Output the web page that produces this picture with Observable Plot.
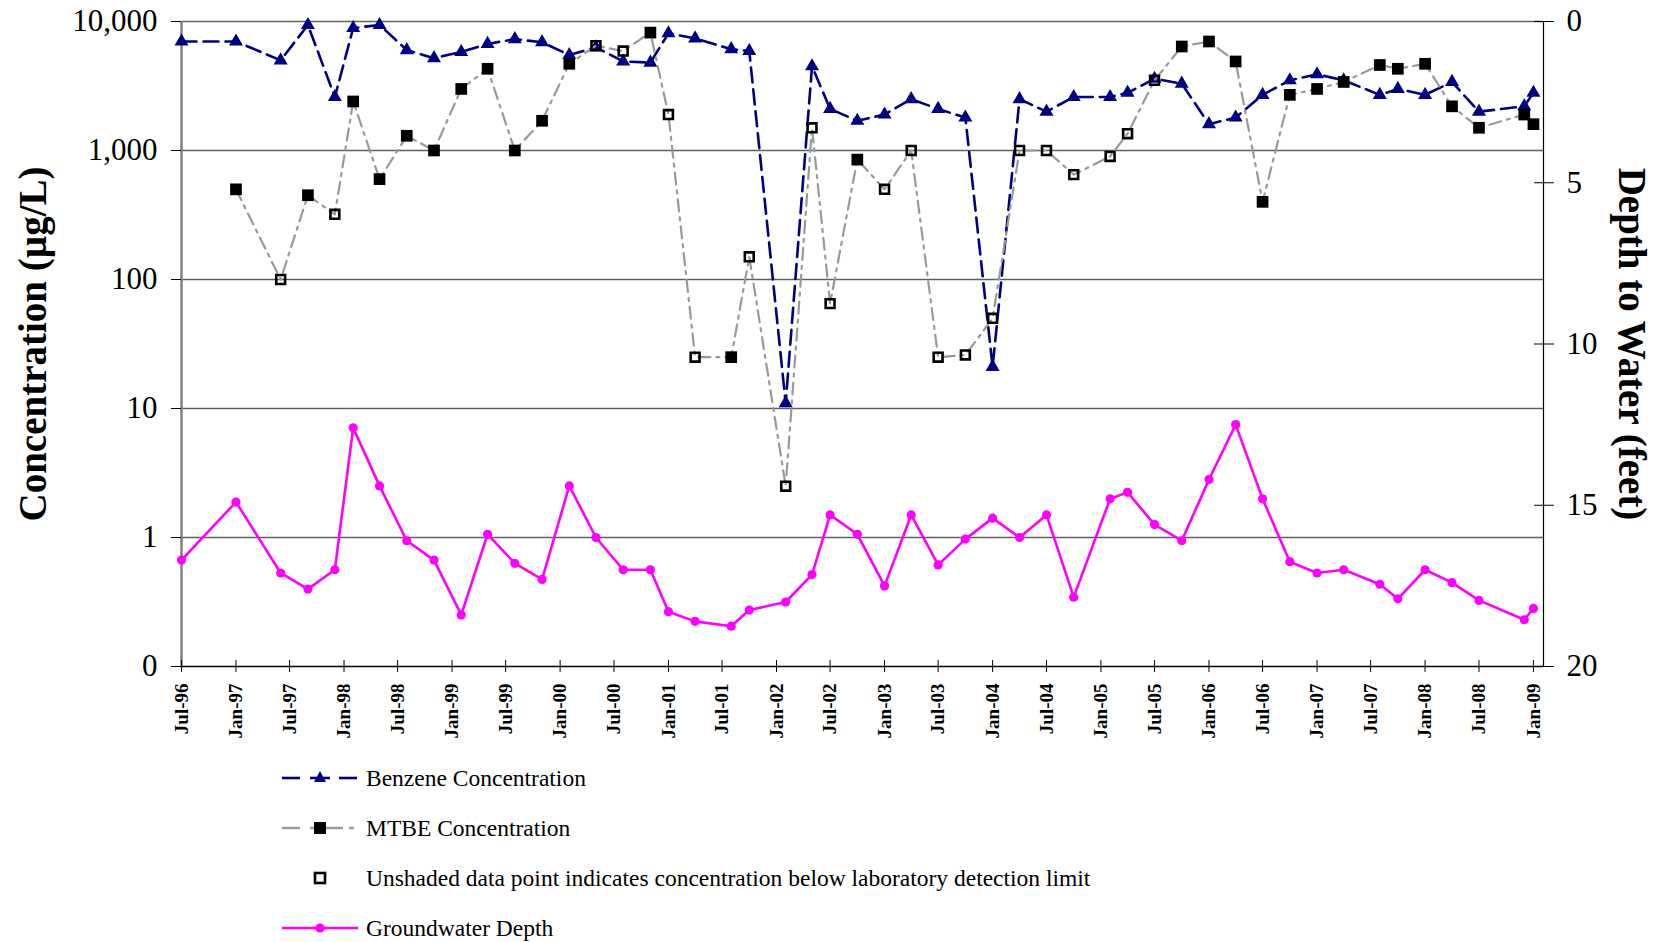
<!DOCTYPE html>
<html>
<head>
<meta charset="utf-8">
<script src="https://cdn.jsdelivr.net/npm/d3@7"></script>
<script src="https://cdn.jsdelivr.net/npm/@observablehq/plot@0.6"></script>
<style>
  body { margin: 0; background: #fff; font-family: "Liberation Serif", serif; }
  #wrap { position: relative; width: 1665px; height: 942px; background: #fff; }
  #wrap > svg { position: absolute; left: 0; top: 0; }
  .leg { position: absolute; left: 280px; height: 30px; display: flex; align-items: center; font-size: 23.5px; color: #000; white-space: nowrap; }
  .leg svg { display: block; margin-right: 6px; }
</style>
</head>
<body>
<div id="wrap"></div>
<script>
// ---- data ----
const sampleDates = [
  "1996-07-01","1997-01-01","1997-06-01","1997-09-01","1997-12-01","1998-02-01","1998-05-01","1998-08-01","1998-11-01","1999-02-01",
  "1999-05-01","1999-08-01","1999-11-01","2000-02-01","2000-05-01","2000-08-01","2000-11-01","2001-01-01","2001-04-01","2001-08-01",
  "2001-10-01","2002-02-01","2002-05-01","2002-07-01","2002-10-01","2003-01-01","2003-04-01","2003-07-01","2003-10-01","2004-01-01",
  "2004-04-01","2004-07-01","2004-10-01","2005-02-01","2005-04-01","2005-07-01","2005-10-01","2006-01-01","2006-04-01","2006-07-01",
  "2006-10-01","2007-01-01","2007-04-01","2007-08-01","2007-10-01","2008-01-01","2008-04-01","2008-07-01","2008-12-01","2009-01-01"
];
const benzene = [
  7000, 7000, 5000, 9400, 2600, 8900, 9400, 6000, 5200, 5800,
  6700, 7300, 6900, 5500, 6300, 4900, 4800, 8100, 7400, 6100,
  5900, 11, 4500, 2100, 1700, 1900, 2500, 2100, 1800, 21,
  2500, 2000, 2600, 2600, 2800, 3600, 3300, 1600, 1800, 2700,
  3500, 3900, 3500, 2700, 3000, 2700, 3400, 2000, 2200, 2800
];
const mtbe = [
  null, 500, 100, 450, 320, 2400, 600, 1300, 1000, 3000,
  4300, 1000, 1700, 4700, 6500, 5900, 8200, 1900, 25, 25,
  150, 2.5, 1500, 65, 850, 500, 1000, 25, 26, 50,
  1000, 1000, 650, 900, 1350, 3500, 6400, 7000, 4900, 400,
  2700, 3000, 3400, 4600, 4300, 4700, 2200, 1500, 1900, 1600
];
// 1 = detected (shaded), 0 = below laboratory detection limit (unshaded)
const mtbeDetected = [
  null, 1, 0, 1, 0, 1, 1, 1, 1, 1,
  1, 1, 1, 1, 0, 0, 1, 0, 0, 1,
  0, 0, 0, 0, 1, 0, 0, 0, 0, 0,
  0, 0, 0, 0, 0, 0, 1, 1, 1, 1,
  1, 1, 1, 1, 1, 1, 1, 1, 1, 1
];
const depth = [
  16.7, 14.9, 17.1, 17.6, 17.0, 12.6, 14.4, 16.1, 16.7, 18.4,
  15.9, 16.8, 17.3, 14.4, 16.0, 17.0, 17.0, 18.3, 18.6, 18.75,
  18.25, 18.0, 17.15, 15.3, 15.9, 17.5, 15.3, 16.85, 16.05, 15.4,
  16.0, 15.3, 17.85, 14.8, 14.6, 15.6, 16.1, 14.2, 12.5, 14.8,
  16.75, 17.1, 17.0, 17.45, 17.9, 17.0, 17.4, 17.95, 18.55, 18.2
];
const concTicks = [0.1, 1, 10, 100, 1000, 10000];
const depthTicks = [0, 5, 10, 15, 20];
const xStart = "1996-07-01", xEnd = "2009-02-04", lastTick = "2009-01-01";
const leftTitle = "Concentration (µg/L)";
const rightTitle = "Depth to Water (feet)";
const legendLabels = [
  "Benzene Concentration",
  "MTBE Concentration",
  "Unshaded data point indicates concentration below laboratory detection limit",
  "Groundwater Depth"
];

// ---- build ----
const parse = d3.utcParse("%Y-%m-%d");
const fmtDate = d3.utcFormat("%b-%y");
const xDomain = [parse(xStart), parse(xEnd)];
const tickDates = d3.utcMonth.every(6).range(parse(xStart), d3.utcDay.offset(parse(lastTick), 1));
const rows = sampleDates.map((d, i) => ({
  date: parse(d), benzene: benzene[i], mtbe: mtbe[i], detected: mtbeDetected[i], depth: depth[i]
}));
const mtbeRows = rows.filter(r => r.mtbe != null);

const W = 1665, H = 745, ML = 181, MR = 122, MT = 21, MB = 79;
const FONT = "'Liberation Serif', serif";
const common = {
  width: W, height: H, marginLeft: ML, marginRight: MR, marginTop: MT, marginBottom: MB,
  style: { background: "transparent", fontFamily: FONT, color: "#000", overflow: "visible" }
};

const p1 = Plot.plot({
  ...common,
  x: { type: "utc", domain: xDomain },
  y: { type: "log", domain: [0.1, 10000] },
  marks: [
    Plot.ruleY(concTicks.slice(1), { stroke: "#606060", strokeWidth: 1.3 }),
    Plot.ruleX([xDomain[0]], { stroke: "#808080", strokeWidth: 2.5 }),
    Plot.ruleY([0.1], { stroke: "#000", strokeWidth: 1.5 }),
    Plot.axisY({
      ticks: concTicks, tickSize: 10, tickPadding: 14, fontSize: 31, label: null,
      tickFormat: d => d < 1 ? "0" : d3.format(",")(d)
    }),
    Plot.axisX({ ticks: tickDates, tickSize: 12, dy: -6, tickFormat: () => "", label: null }),
    Plot.text(tickDates, {
      x: d => d, text: d => fmtDate(d), frameAnchor: "bottom", dy: 17, rotate: -90,
      textAnchor: "end", lineAnchor: "middle", fontSize: 19, fontWeight: "bold", fill: "#000"
    }),
    Plot.line(rows, { x: "date", y: "benzene", stroke: "#000080", strokeWidth: 2.6, strokeDasharray: "15,7" }),
    Plot.dot(rows, { x: "date", y: "benzene", symbol: "triangle", r: 5.2, fill: "#000080" }),
    Plot.line(mtbeRows, { x: "date", y: "mtbe", stroke: "#999", strokeWidth: 2.2, strokeDasharray: "12,6,3,6" }),
    Plot.dot(mtbeRows.filter(d => d.detected), { x: "date", y: "mtbe", symbol: "square", r: 6.6, fill: "#000" }),
    Plot.dot(mtbeRows.filter(d => !d.detected), { x: "date", y: "mtbe", symbol: "square", r: 5, fill: "none", stroke: "#000", strokeWidth: 2.6 }),
    Plot.text([leftTitle], {
      frameAnchor: "left", dx: -148, rotate: -90, textAnchor: "middle", lineAnchor: "middle",
      fontSize: 39, fontWeight: "bold", fill: "#000"
    })
  ]
});

const p2 = Plot.plot({
  ...common,
  x: { type: "utc", domain: xDomain, axis: null },
  y: { domain: [0, 20], reverse: true },
  marks: [
    Plot.ruleX([xDomain[1]], { stroke: "#000", strokeWidth: 1.2 }),
    Plot.axisY({ anchor: "right", ticks: depthTicks, tickSize: 20, dx: -10, tickPadding: 13, fontSize: 31, label: null }),
    Plot.line(rows, { x: "date", y: "depth", stroke: "#ff00ff", strokeWidth: 2.6 }),
    Plot.dot(rows, { x: "date", y: "depth", r: 4.6, fill: "#ff00ff" }),
    Plot.text([rightTitle], {
      frameAnchor: "right", dx: 88, rotate: 90, textAnchor: "middle", lineAnchor: "middle",
      fontSize: 39, fontWeight: "bold", fill: "#000"
    })
  ]
});

const wrap = document.getElementById("wrap");
wrap.appendChild(p1);
wrap.appendChild(p2);

// ---- legend ----
const swatches = [
  `<svg width="80" height="30"><g stroke="#000080" stroke-width="2.6"><line x1="2" y1="15" x2="20" y2="15"/><line x1="30" y1="15" x2="50" y2="15"/><line x1="59" y1="15" x2="77" y2="15"/></g><path d="M40,8 L46,19 L34,19 Z" fill="#000080"/></svg>`,
  `<svg width="80" height="30"><g stroke="#999" stroke-width="2.4"><line x1="2" y1="15" x2="20" y2="15"/><line x1="30" y1="15" x2="63" y2="15"/><line x1="69" y1="15" x2="74" y2="15"/></g><rect x="34" y="9" width="12" height="12" fill="#000"/></svg>`,
  `<svg width="80" height="30"><rect x="35" y="10" width="10" height="10" fill="#fff" stroke="#000" stroke-width="2.6"/></svg>`,
  `<svg width="80" height="30"><line x1="2" y1="15" x2="78" y2="15" stroke="#ff00ff" stroke-width="2.6"/><circle cx="40" cy="15" r="4.6" fill="#ff00ff"/></svg>`
];
const legendY = [778, 828, 878, 928];
legendLabels.forEach((lab, i) => {
  const div = document.createElement("div");
  div.className = "leg";
  div.style.top = (legendY[i] - 15) + "px";
  div.innerHTML = swatches[i] + `<span>${lab}</span>`;
  wrap.appendChild(div);
});
</script>
</body>
</html>
